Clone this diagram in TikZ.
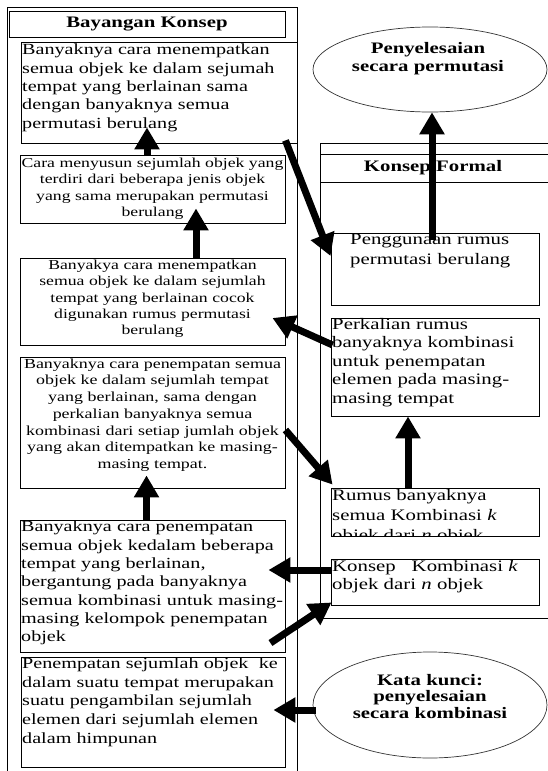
\documentclass[tikz,border=0pt]{standalone}
\usepackage{fontspec}
\setmainfont{Liberation Serif}[FakeStretch=1.3, ItalicFont={Liberation Serif Italic}, BoldFont={Liberation Serif Bold}, BoldItalicFont={Liberation Serif Bold Italic}]
\newfontfamily\itserif{Liberation Serif Italic}[FakeStretch=1.3]
\usetikzlibrary{arrows.meta,shapes.geometric,calc}
\begin{document}
\begin{tikzpicture}[x=1pt,y=-1pt,
  box/.style={draw=black, line width=0.9pt, inner sep=0pt},
  txt/.style={inner sep=0pt, text width=#1, align=left, anchor=north west},
  ctxt/.style={inner sep=0pt, text width=#1, align=center, anchor=north},
  oval/.style={draw=black!80, line width=0.7pt, ellipse, inner sep=0pt},
  bigarrow/.style={line width=7pt, -{Triangle[length=22pt,width=24pt]}},
  framelines/.style={draw=black, line width=0.9pt},
  bigf/.style={font=\fontsize{15.5}{18.3}\selectfont},
  smallf/.style={font=\fontsize{13.6}{16.3}\selectfont},
  rightf/.style={font=\fontsize{16}{#1}\selectfont},
  titlef/.style={font=\bfseries\fontsize{16}{#1}\selectfont}
]
\useasboundingbox (0,0) rectangle (547,771);

% frames
\draw[framelines] (7,775) -- (7,7) -- (297,7) -- (297,775);
\draw[framelines] (550,143) -- (320,143) -- (320,618) -- (550,618);
\draw[framelines] (320,154) -- (550,154);
\draw[framelines] (320,182) -- (550,182);

% titles
\node[box, minimum width=276, minimum height=26, titlef=18] (T1) at (147,24) {Bayangan Konsep};
\node[titlef=18, inner sep=0pt] (T2) at (433,168) {Konsep Formal};

% left boxes
\node[box, minimum width=276, minimum height=101] (A) at (159,92.5) {};
\node[txt=280, bigf] (At) at (22,44) {Banyaknya cara menempatkan\\ semua objek ke dalam sejumah\\ tempat yang berlainan sama\\ dengan banyaknya semua\\ permutasi berulang};

\node[box, minimum width=265, minimum height=68] (B) at (152.5,189) {};
\node[ctxt=300, smallf] (Bt) at (152.5,158) {Cara menyusun sejumlah objek yang\\ terdiri dari beberapa jenis objek\\ yang sama merupakan permutasi\\ berulang};

\node[box, minimum width=265, minimum height=87] (C) at (152.5,301.5) {};
\node[ctxt=300, smallf] (Ct) at (152.5,260) {Banyakya cara menempatkan\\ semua objek ke dalam sejumlah\\ tempat yang berlainan cocok\\ digunakan rumus permutasi\\ berulang};

\node[box, minimum width=265, minimum height=131] (D) at (152.5,422.5) {};
\node[ctxt=300, font=\fontsize{13.8}{16.7}\selectfont] (Dt) at (152.5,358.5) {Banyaknya cara penempatan semua\\ objek ke dalam sejumlah tempat\\ yang berlainan, sama dengan\\ perkalian banyaknya semua\\ kombinasi dari setiap jumlah objek\\ yang akan ditempatkan ke masing-\\ masing tempat.};

\node[box, minimum width=265, minimum height=132] (E) at (152.5,586) {};
\node[txt=280, bigf] (Et) at (21,521) {Banyaknya cara penempatan\\ semua objek kedalam beberapa\\ tempat yang berlainan,\\ bergantung pada banyaknya\\ semua kombinasi untuk masing-\\ masing kelompok penempatan\\ objek};

\node[box, minimum width=264, minimum height=110] (F) at (153,712) {};
\node[txt=280, font=\fontsize{15.5}{18.7}\selectfont] (Ft) at (22,657.5) {Penempatan sejumlah objek\ \ ke\\ dalam suatu tempat merupakan\\ suatu pengambilan sejumlah\\ elemen dari sejumlah elemen\\ dalam himpunan};

% right boxes
\node[oval, minimum width=234, minimum height=85] (E1) at (430,69.5) {};
\node[ctxt=230, titlef=18] (E1t) at (428,42) {Penyelesaian\\ secara permutasi};

\node[box, minimum width=208, minimum height=72] (G) at (435,269) {};
\node[txt=200, rightf=20] (Gt) at (350,234) {Penggunaan rumus\\ permutasi berulang};

\node[box, minimum width=208, minimum height=98] (H) at (435,367) {};
\node[txt=205, rightf=18.5] (Ht) at (332,318) {Perkalian rumus\\ banyaknya kombinasi\\ untuk penempatan\\ elemen pada masing-\\ masing tempat};

\begin{scope}
\clip (331,488) rectangle (539,535);
\node[txt=205, rightf=20] (It) at (332,489) {Rumus banyaknya\\ semua Kombinasi {\itserif k}\\ objek dari {\itserif n} objek};
\end{scope}
\node[box, minimum width=208, minimum height=48] (I) at (435,512) {};

\node[box, minimum width=208, minimum height=46] (J) at (435,582) {};
\node[txt=205, rightf=18] (Jt) at (332,560) {Konsep\ \ \ Kombinasi {\itserif k}\\ objek dari {\itserif n} objek};

\node[oval, minimum width=234, minimum height=106] (E2) at (430,705) {};
\node[ctxt=230, titlef=16.5] (E2t) at (430,674) {Kata kunci:\\ penyelesaian\\ secara kombinasi};

% arrows
\draw[bigarrow] ($(B.north)+(-5.5,0)$) -- ($(A.south)+(-12,-16)$);
\draw[bigarrow] ($(C.north)+(43.5,0)$) -- ($(B.south)+(43.5,-15)$);
\draw[bigarrow] ($(E.north)+(-6,0)$) -- ($(D.south)+(-6,-13)$);
\draw[bigarrow] ($(A.south east)+(-12,-3)$) -- ($(G.west)+(0,-13)$);
\draw[bigarrow] ($(G.north)+(-3,7)$) -- ($(E1.south)+(2,0)$);
\draw[bigarrow] ($(H.west)+(2,-22)$) -- ($(C.east)+(-13,16.5)$);
\draw[bigarrow] ($(D.east)+(0,7.5)$) -- ($(I.north west)+(2,-3)$);
\draw[bigarrow] ($(I.north)+(-27,0)$) -- ($(H.south)+(-27,0)$);
\draw[bigarrow] ($(J.west)+(1,-12)$) -- ($(E.east)+(-17,-16)$);
\draw[bigarrow] ($(E.east)+(-15,57)$) -- ($(J.south west)+(1,-3)$);
\draw[bigarrow] ($(E2.west)+(3,5)$) -- ($(F.east)+(-12,-2)$);
\end{tikzpicture}
\end{document}
